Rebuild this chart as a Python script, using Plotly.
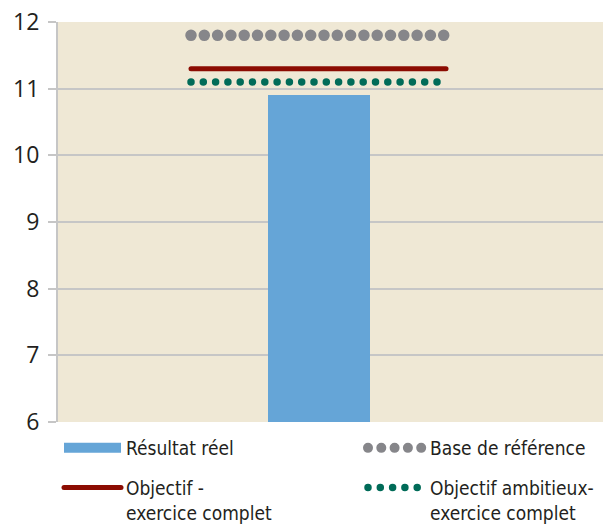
import plotly.graph_objects as go

# Values
actual_label = "Résultat réel"
baseline_label = "Base de référence"
target_label = "Objectif -<br>exercice complet"
stretch_label = "Objectif ambitieux-<br>exercice complet"

actual_value = 10.9
baseline_value = 11.8
target_value = 11.3
stretch_value = 11.1

y_tick_values = [6, 7, 8, 9, 10, 11, 12]

# Styling
BG = "#efe8d5"
GRID = "#c6c6c6"
TEXT = "#231f20"
BLUE = "#65a5d7"
GREY = "#86868a"
RED = "#8c0c02"
GREEN = "#006b58"
LEGEND_FONT = dict(family="Liberation Sans Narrow, DejaVu Sans Condensed, sans-serif", size=19, color=TEXT)

LINE_SPAN = [-1, 1]      # horizontal extent of the reference lines
BAR_WIDTH = 0.8

fig = go.Figure()

fig.add_trace(go.Bar(
    x=[0], y=[actual_value], width=BAR_WIDTH,
    marker=dict(color=BLUE, line=dict(width=0)),
    showlegend=False, hoverinfo="skip",
))
# legend swatch for the bar
fig.add_trace(go.Scatter(
    x=[None], y=[None], mode="lines", name=actual_label,
    line=dict(color=BLUE, width=11), legend="legend", legendgroup="g1",
))
fig.add_trace(go.Scatter(
    x=LINE_SPAN, y=[target_value] * 2, mode="lines", name=target_label,
    line=dict(color=RED, width=5), hoverinfo="skip", legend="legend", legendgroup="g2",
))
fig.add_trace(go.Scatter(
    x=LINE_SPAN, y=[baseline_value] * 2, mode="lines", name=baseline_label,
    line=dict(color=GREY, width=11.5, dash="0px,13.3px"), hoverinfo="skip",
    legend="legend2", legendgroup="g3",
))
fig.add_trace(go.Scatter(
    x=LINE_SPAN, y=[stretch_value] * 2, mode="lines", name=stretch_label,
    line=dict(color=GREEN, width=7.5, dash="0px,12.3px"), hoverinfo="skip",
    legend="legend2", legendgroup="g4",
))

legend_common = dict(
    orientation="v",
    xref="container", yref="container",
    xanchor="left", yanchor="top",
    y=(527 - 429) / 527,
    itemwidth=57,
    valign="top",
    font=LEGEND_FONT,
    bgcolor="rgba(0,0,0,0)",
    tracegroupgap=12,
    groupclick="toggleitem",
)

fig.update_layout(
    width=603, height=527,
    margin=dict(l=58, r=0, t=22, b=105, autoexpand=False),
    paper_bgcolor="white",
    plot_bgcolor=BG,
    bargap=0,
    showlegend=True,
    legend=dict(x=59 / 603, **legend_common),
    legend2=dict(x=363 / 603, **legend_common),
    xaxis=dict(
        range=[-2.043, 2.231],
        showgrid=False, zeroline=False, showticklabels=False, ticks="",
        showline=False, fixedrange=True,
    ),
    yaxis=dict(
        range=[6, 12],
        tickvals=y_tick_values,
        showgrid=True, gridcolor=GRID, gridwidth=2,
        zeroline=False,
        showline=True, linecolor=GRID, linewidth=2,
        ticks="outside", ticklen=8, tickwidth=2, tickcolor=GRID,
        ticklabelstandoff=4,
        tickfont=dict(family="Open Sans, sans-serif", size=23, color=TEXT),
        fixedrange=True,
    ),
)

css = (
    "path.js-line{stroke-linecap:round}"
    "path.js-line[style*='rgb(101, 165, 215)']{stroke-linecap:butt}"
)
post = (
    "var s=document.createElement('style');"
    "s.textContent=\"" + css + "\";"
    "document.head.appendChild(s);"
)

fig.write_html("out.html", config={"displayModeBar": False, "staticPlot": True}, post_script=post)
